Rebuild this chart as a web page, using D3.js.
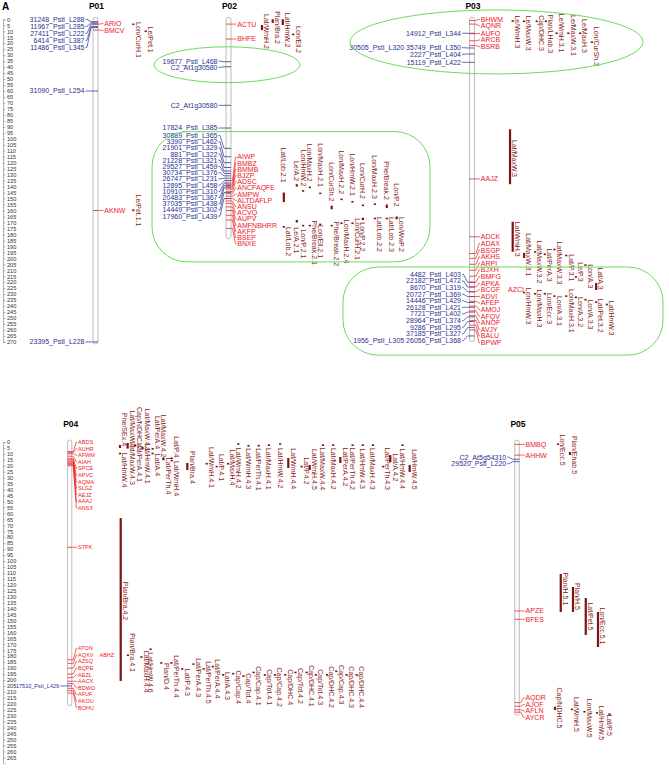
<!DOCTYPE html>
<html><head><meta charset="utf-8">
<script src="https://cdn.jsdelivr.net/npm/d3@7"></script>
<style>body{margin:0;background:#fff}svg{display:block}text{font-family:"Liberation Sans",Arial,sans-serif}</style>
</head><body><svg id="c" width="669" height="769"></svg>
<script>
// ---------------- DATA ----------------
const chromNames = ["P01","P02","P03","P04","P05"];
const chromLengths = [270, 182, 268, 220, 228];

// markers: [name, cM]
const p01Left = [["31248_PstI_L288",2],["11967_PstI_L285",3],["27411_PstI_L222",4],["6414_PstI_L387",6],["11486_PstI_L345",7],["31090_PstI_L254",60],["23395_PstI_L228",270]];
const p01Right = [["ARIO",4],["BMCV",9],["AKNW",160]];
const p02Left = [["19677_PstI_L468",35.5],["C2_At1g30580",39.7],["C2_At1g30580 ",72],["17824_PstI_L385",91],
 ["30889_PstI_L365",108],["3390_PstI_L462",115],["21901_PstI_L329",120],["881_PstI_L322",124],["21228_PstI_L321",127],["29527_PstI_L459",129],["30734_PstI_L376",131],["26747_PstI_L231",133],["12895_PstI_L458",135],["10910_PstI_L310",137],["20483_PstI_L367",139],["37035_PstI_L438",141],["14449_PstI_L302",145],["17960_PstI_L439",150]];
const p02Right = [["ACTU",4],["BHFE",16.5],["AIWP",135],["BMBZ",138],["BMMB",140],["BJZP",142],["ADSC",144],["ANCFAQFE",146],["AMPW",148],["ALTDAFLP",150],["ANSU",152],["ACVQ",154],["AUPV",157],["AMFNBHRR",160],["AKFP",164],["BSEP",168],["BNXE",175]];
const p03Left = [["14912_PstI_L344",11.7],["30505_PstI_L320",24],["35749_PstI_L350",24],["2227_PstI_L404",29],["15119_PstI_L422",36],
 ["4482_PstI_L403",220],["22182_PstI_L472",224],["8670_PstI_L319",228],["20727_PstI_L369",232],["14446_PstI_L429",237],["26128_PstI_L421",241],["7721_PstI_L402",245],["28964_PstI_L374",249],["9286_PstI_L295",253],["37185_PstI_L327",258],["1956_PstI_L305",265],["26056_PstI_L368",265]];
const p03Right = [["BHWM",1],["AQNR",4],["AUFO",12],["ARCB",18],["BSRB",22],["AAJZ",133.6],["ADCK",182],
 ["ADAX",196],["BSGP",200],["AKHS",205],["ARPI",210],["BJXH",215],["BMFG",220],["APKA",224],["BCGF",228],["AZCI",228],["ADVI",232],["AFEP",236],["AMOJ",240],["AFQV",244],["ANOF",248],["AVJY",252],["BALU",256],["BPWP",260]];
const p04Left = [["17510_PstI_L429",205]];
const p04Right = [["ABDS",8],["AUHR",9],["AFWM",10],["AIAH",12],["SPCE",14],["APVC",15],["AQMA",16],["SLGZ",17],["AEJZ",18],["AAAJ",19],["ANSX",20],["STPK",88.5],
 ["ATON",183],["AQXV",186],["ABHZ",186],["AZSQ",190],["BQPE",195],["AEZL",198],["AACX",201],["BDWO",203],["AFUF",207],["AKOU",209],["BOHU",211]];
const p05Left = [["C2_At5g54310",14.5],["29520_PstI_L220",16.5]];
const p05Right = [["BMBQ",2],["AHHW",11],["APZE",142],["BFES",149],["AQDR",219],["AJOF",222],["AFLN",225],["AYCR",227]];

// QTL: [name, inner start cM, inner end cM, label centre cM, lane]
const p01Qtl = [["Lon/CurH.1",3.5,4.5,17.3,0],["Le/Pet.1",9.3,10.3,17,1],["Le/Pet.1.1",159,160.5,160,0]];
const p02Qtl = [["Lat/WmH.2",4.8,9,10.2,0],["Plan/Bra.2",0,3,6.9,1.03],["Lat/HmW.2",0,4.8,9,2],["Lon/Ell.2",12,13,17,3],
 ["Lat/Lob.2.1",145,153,122,2.1],["Le/A.2",138,140,127,3.35],["Lon/HmW.2",143,144,124.5,3.95],["Lon/MaxH.2",140,141,120,4.6],["Lon/MaxH.2.1",145,146,122,5.6],["Lon/CurSh.2",156,159,136,6.7],["Lon/MaxH.2.2",150,151,128,7.65],["Lon/HmW.2.1",152,153,130,8.7],["Lon/CurH.2",155,156,135.3,9.7],["Lon/MaxH.2.3",154,155,132,10.85],["Phe/Break.2",155,158,135,12],["Lon/P.2",165,166,147,12.95],
 ["Lat/Lob.2",173,174,186,2.1],["Le/A.2.1",168,170,185,3.35],["Lon/P.2.1",172,173,188,3.95],["Phe/Break.2.1",172,173,187,4.6],["Lon/Ell.2.1",171,172,186,5.6],["Phe/Break.2.2",172,173,188,6.7],["Lon/MaxH.2.4",170,171,186,7.65],["Lon/CurH.2.1",170,171,184,8.7],["Lon/P.2.2",166,168,182,9.7],["Lat/Lob.2.2",166,167,180,10.85],["Lat/Lob.2.3",166,167,180,12],["Lon/WwP.2",166,167,180,12.95]];
const p03Qtl = [["Le/WmH.3",0.8,1.6,10.6,0],["Le/MaxW.3",1,2,11.5,1.06],["Cap/DHC.3",1,2,11.5,2.24],["Plan/LHab.3",1,2,12.3,3.1],["Le/WmH.3.1",11,12,11.5,4.1],["Le/MaxW.3.1",11,12,13.5,5.2],["Le/MaxH.3",11,12,14,6.3],["Lon/CurSh.3",18.5,19.5,22.7,7.4],
 ["Lat/MaxW.3",92,138,116.5,-0.25],
 ["Lat/WmH.3",169.4,194.5,184,0],["Lat/MaxW.3.1",195.5,199.7,197,1.06],["Lat/MaxW.3.2",194,195,203,2.1],["Lat/PerA.3",196,197,205.6,3],["Lat/MaxW.3.3",192,193,204,3.9],["Lat/P.3.1",197,198,208,5],["Le/P.3",215,216,211.5,5.9],["Lon/A.3",205,206,215,6.8],["Lat/A.3",220.6,226.5,217,7.8],
 ["Lon/HmW.3",228,229,240,1.06],["Lon/MaxH.3",229,230,242,2.1],["Lon/Ecc.3",229,230,242,3],["Lon/A.3.1",231,232,244,3.9],["Lon/MaxH.3.1",231,232,244,5],["Lon/A.3.2",232,233,245,5.9],["Lon/A.3.3",234,235,247,6.8],["Lat/Pet.3.2",236,237,248,7.8],["Lat/HmW.3",238,239,250,8.8]];
const p04Qtl = [["Phe/SEx.4",2.5,5,-10.5,0],["Lat/HmW.4",9,10,23.5,0],["Lat/MaxW.4",0.8,4.2,-10.9,0.75],["Lat/MaxW.4.3",4.2,5,18,0.75],["Cap/NDHC.4",2,3,-12.2,1.47],["Lat/PerA.4.1",2.5,3.5,17.2,1.47],["Lat/MaxW.4.1",4,5,-10,2.2],["Lat/HmW.4.1",5,6,18,2.2],["Lat/PerA.4",5,6,-8,3.2],["Lat/A.4",9,10,19.3,3.2],["Lat/MaxW.4.2",13,14,-5,4.25],["Lat/PerTh.4",14,15,28.6,4.25],["Lat/P.4",13,14,4.2,5.07],["Lat/WmH.4",15,16,30.7,5.07],
 ["Plan/Bra.4",17.6,23.5,21.4,6.6],["Lat/WmH.4.1",17.6,18.5,21.4,8.5],["Lat/P.4.1",20,21,21.4,9.48],["Lat/MaxH.4",17.6,18.5,21.4,10.6],["Lat/WmH.4.2",1,2,22,11.6],["Lat/WmH.4.3",2.5,3.5,22.5,12.6],["Lat/PerTh.4.1",2.5,3.5,23,13.6],["Lat/MaxH.4.1",2,3,22.5,14.6],["Lat/HmW.4.2",1,2,22,15.7],["Lat/WmH.4.4",13.4,21.8,22.5,16.5],["Lat/P.4.2",20,21,24.4,17.8],["Lat/WmH.4.5",19.3,23.5,23,18.6],["Lat/MaxW.4.4",2,3,22.5,19.9],["Lat/MaxH.4.2",2,3,22.5,20.9],["Lat/PerA.4.2",12.6,17.6,21,21.6],["Lat/PerTh.4.2",2,3,22.5,22.8],["Lat/HmW.4.3",2,3,22.5,23.8],["Lat/MaxH.4.3",2,3,22.5,24.8],["Lat/PerTh.4.3",20,21,22.5,25.8],["Lat/A.4.2",11,17,21.4,26.5],["Lat/HmW.4.4",2,3,22.5,27.7],["Lat/HmW.4.5",19.3,25.2,23,28.4],
 ["Plan/Bra.4.2",63.9,200.8,133.6,0.07],
 ["Plan/Bra.4.1",178.5,179.5,177,0.78],["Lat/MaxH.4.4",180,181,193,2.1],["Lat/HmW.4.6",173.5,174.5,193.7,3],["Plan/D.4",185,186,197,4.05],["Lat/PerTh.4.4",185,186,197,5.04],["Lat/P.4.3",190,191,202,6.1],["Lat/PerA.4.3",186,187,198,7.2],["Lat/PerTh.4.5",190,191,202,8.2],["Lat/PerA.4.4",188,189,199,9.1],["Lat/A.4.3",195,196,205,10.1],["Cap/Cap.4",194,195,206,11.1],["Cap/Tot.4",196,197,207,12.1],["Cap/Cap.4.1",193,194,205,13.1],["Cap/Tot.4.1",195,196,206,14.2],["Cap/Cap.4.2",195,196,206,15.2],["Cap/DHC.4",195,196,206,16.2],["Cap/Tot.4.2",193,194,205,17.2],["Cap/DHC.4.1",193,194,205,18.3],["Cap/Tot.4.3",195,196,206,19.2],["Cap/DHC.4.2",195,196,206,20.3],["Cap/Cap.4.3",192,193,204,21.2],["Cap/DHC.4.3",195,196,206,22.2],["Cap/DHC.4.4",195,196,206,23.2]];
const p05Qtl = [["Lon/Ecc.5",1.2,2.2,6.7,-0.12],["Plan/Ehab.5",8.4,10.9,10.9,0.84],["Plan/H.5.1",110.9,142.8,123.5,0.1],["Plan/H.5",121.8,142.8,129.8,1.08],["Lat/Pet.5",131.1,162.2,146.6,2.1],["Lon/Ecc.5.1",142.8,172.3,154.6,3.08],
 ["Cap/NDHC.5",222.4,225.2,223.5,-0.36],["Lat/WmH.5",224,225,229,1],["Lon/MaxW.5",226,227,232,2],["Lat/HmW.5",227,228,236,3],["Lat/P.5",228,229,238,4]];

// ---------------- LAYOUT ----------------
const svg = d3.select("#c");
const BLUE = "#2b3190", RED = "#ec2028", QBAR = "#7a1416", QTXT = "#861c1c", GREEN = "#6ade5a";
const panels = [
  {y: d3.scaleLinear().domain([0,270]).range([19.3, 341.95]), ticks: d3.range(0,271,5), titleDy: -10.5},
  {y: d3.scaleLinear().domain([0,270]).range([442, 763.3]), ticks: d3.range(0,266,5), titleDy: -15}
];
const chromLayout = {
  P01:{panel:0, cx:95.5, cw:5, sp:7.0, fs:7, qx0:133.3, qw:12.4, left:p01Left, right:p01Right, qtl:p01Qtl},
  P02:{panel:0, cx:228.5, cw:5, sp:6.2, fs:7, qx0:262, qw:10.4, left:p02Left, right:p02Right, qtl:p02Qtl},
  P03:{panel:0, cx:472, cw:5, sp:6.6, fs:7, qx0:512.7, qw:10.7, left:p03Left, right:p03Right, qtl:p03Qtl},
  P04:{panel:1, cx:69.7, cw:4.2, sp:6.6, fs:5.5, qx0:120, qw:10.2, left:p04Left, right:p04Right, qtl:p04Qtl},
  P05:{panel:1, cx:517, cw:4.5, sp:6.6, fs:7, qx0:559.5, qw:12.5, left:p05Left, right:p05Right, qtl:p05Qtl}
};

// panel letter
svg.append("text").attr("x",2).attr("y",10).attr("font-size",10).attr("font-weight","bold").text("A");

// rulers
panels.forEach(p => {
  const g = svg.append("g").attr("transform","translate(3,0)");
  const ax = d3.axisRight(p.y).tickValues(p.ticks).tickSize(2.5).tickPadding(1.5);
  g.call(ax);
  g.select(".domain").attr("stroke","#888").attr("stroke-width",0.6);
  g.selectAll(".tick line").attr("stroke","#888").attr("stroke-width",0.6);
  g.selectAll(".tick text").attr("font-size",5.6).attr("fill","#333").attr("font-family","Liberation Sans, Arial, sans-serif");
  g.selectAll(".minor").data(d3.range(p.ticks[0], p.ticks[p.ticks.length-1], 1).filter(v=>v%5)).enter()
   .append("line").attr("x1",0).attr("x2",1.2).attr("y1",d=>p.y(d)).attr("y2",d=>p.y(d)).attr("stroke","#aaa").attr("stroke-width",0.4);
});

// green highlight annotations (cM ranges)
const highlightsEllipse = [{c:"P02", cx:227, cM:[23,53], rx:73},{c:"P03", cx:496.5, cM:[-7.8,45.7], rx:146.5}];
const highlightsRect = [{c:"P02", x:[152,430], cM:[94,203]},{c:"P03", x:[343,663], cM:[207.3,281]}];

function spread(items, s, minY){
  let groups = items.map(d => ({m:[d], sum:d.py}));
  const place = g => { const n=g.m.length; let top=g.sum/n-(n-1)*s/2; if(top<minY) top=minY; g.top=top; g.bot=top+(n-1)*s; };
  groups.forEach(place);
  let changed=true;
  while(changed){ changed=false;
    for(let i=0;i<groups.length-1;i++){
      if(groups[i].bot + s > groups[i+1].top + 0.01){
        const a=groups[i], b=groups[i+1];
        const g={m:a.m.concat(b.m), sum:a.sum+b.sum}; place(g);
        groups.splice(i,2,g); changed=true; break;
      }
    }
  }
  groups.forEach(g => g.m.forEach((d,j) => d.ly = g.top + j*s));
}

chromNames.forEach((name, ci) => {
  const L = chromLayout[name], P = panels[L.panel], y = P.y;
  const len = chromLengths[ci];
  const g = svg.append("g");
  const cl = L.cx - L.cw/2, cr = L.cx + L.cw/2;
  g.append("text").attr("x", L.cx+1).attr("y", y(0)+P.titleDy).attr("text-anchor","middle")
    .attr("font-size",8.5).attr("font-weight","bold").text(name);
  g.append("rect").attr("x",cl).attr("y",y(0)-2).attr("width",L.cw).attr("height",y(len)-y(0)+4)
    .attr("rx",L.cw/2).attr("fill","#fff").attr("stroke","#aaa").attr("stroke-width",0.8);

  [["L",L.left,BLUE],["R",L.right,RED]].forEach(([side,list,col]) => {
    const items = d3.groups(list, d=>d[1]).map(([pos,arr]) => ({pos, py:y(pos),
      name: arr.map(a=>a[0].trim()).join(side==="L" ? " " : "\u00a0\u00a0\u00a0\u00a0")}));
    items.sort((a,b)=>a.py-b.py);
    spread(items, L.sp, y(0));
    items.forEach(d => {
      g.append("line").attr("x1",cl).attr("x2",cr).attr("y1",d.py).attr("y2",d.py).attr("stroke",col).attr("stroke-width",0.8);
      const pts = side==="L" ? [[cl,d.py],[cl-2,d.py],[cl-6,d.ly],[cl-7.5,d.ly]] : [[cr,d.py],[cr+1.5,d.py],[cr+4.5,d.ly],[cr+5.5,d.ly]];
      g.append("path").attr("d", d3.line()(pts)).attr("fill","none").attr("stroke",col).attr("stroke-width",0.7);
      g.append("text").attr("x", side==="L" ? cl-8.5 : cr+6.3).attr("y", d.ly).attr("dy","0.35em")
        .attr("text-anchor", side==="L" ? "end" : "start").attr("font-size",L.fs).attr("fill",col).text(d.name);
    });
  });

  const lx = d3.scaleLinear().domain([0,1]).range([L.qx0, L.qx0+L.qw]);
  L.qtl.forEach(q => {
    const bx = lx(q[4]);
    const y1 = y(q[1]), y2 = y(q[2]), ym = y(q[3]);
    g.append("rect").attr("x",bx-1.1).attr("y",Math.min(y1,y2)).attr("width",2.2).attr("height",Math.max(1.6,Math.abs(y2-y1))).attr("fill",QBAR);
    const t = g.append("text").attr("font-size",7).attr("fill",QTXT).attr("text-anchor","middle").text(q[0]);
    const tl = t.node().getComputedTextLength();
    const overlap = Math.max(y1,y2) > ym - tl/2 && Math.min(y1,y2) < ym + tl/2;
    const bxText = overlap ? bx + 2.3 : bx - 2.5;
    t.attr("transform", `translate(${bxText},${ym}) rotate(90)`);
  });
});

highlightsEllipse.forEach(h => {
  const y = panels[chromLayout[h.c].panel].y;
  svg.append("ellipse").attr("cx",h.cx).attr("cy",(y(h.cM[0])+y(h.cM[1]))/2).attr("rx",h.rx).attr("ry",(y(h.cM[1])-y(h.cM[0]))/2)
    .attr("fill","none").attr("stroke",GREEN).attr("stroke-width",1);
});
highlightsRect.forEach(h => {
  const y = panels[chromLayout[h.c].panel].y;
  svg.append("rect").attr("x",h.x[0]).attr("y",y(h.cM[0])).attr("width",h.x[1]-h.x[0]).attr("height",y(h.cM[1])-y(h.cM[0]))
    .attr("rx",35).attr("fill","none").attr("stroke",GREEN).attr("stroke-width",1);
});
</script></body></html>
